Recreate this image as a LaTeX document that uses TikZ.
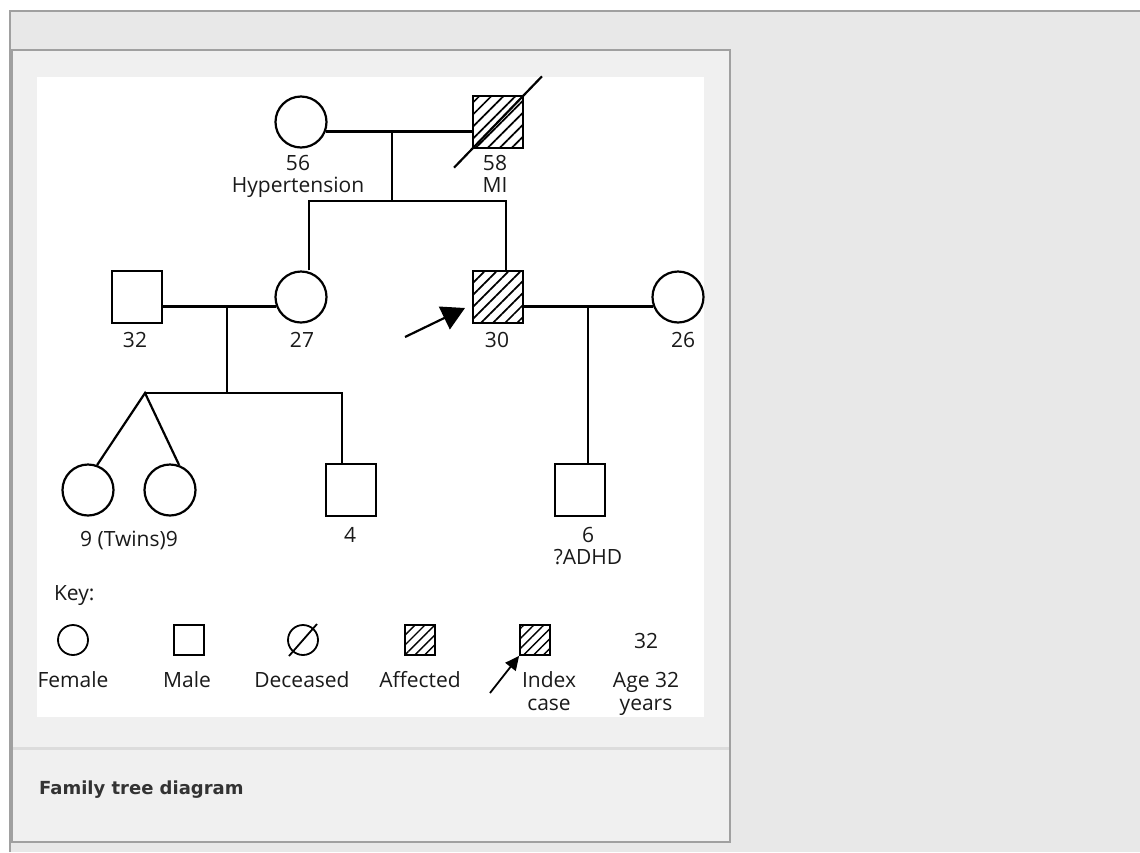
\documentclass[tikz,border=0pt]{standalone}
\usepackage{fontspec}
\setmainfont{Open Sans}
\newfontfamily\capfont{DejaVu Sans}
\usepackage{xcolor}
\usetikzlibrary{arrows.meta,patterns.meta,calc}

\definecolor{pagebg}{HTML}{E8E8E8}
\definecolor{panelbg}{HTML}{F0F0F0}
\definecolor{rimgray}{HTML}{A0A0A0}
\definecolor{sepgray}{HTML}{DCDCDC}
\definecolor{inkgray}{HTML}{1A1A1A}
\definecolor{capgray}{HTML}{333333}

\begin{document}
\begin{tikzpicture}[x=1pt, y=-1pt, line width=2.2pt,
  fem/.style={draw, circle, minimum size=51pt, inner sep=0pt},
  mal/.style={draw, rectangle, minimum width=50pt, minimum height=52pt, inner sep=0pt},
  aff/.style={pattern={Lines[angle=45,distance=8.5pt,line width=1.7pt]}},
  kfem/.style={draw, circle, minimum size=30pt, inner sep=0pt, line width=1.8pt},
  kmal/.style={draw, rectangle, minimum size=30pt, inner sep=0pt, line width=1.8pt},
  kaff/.style={pattern={Lines[angle=45,distance=7pt,line width=1.4pt]}},
  lbl/.style={font=\fontsize{21}{22}\selectfont, text=inkgray, align=center,
              inner sep=0pt, anchor=base},
  klbl/.style={lbl, font=\fontsize{21}{23}\selectfont},
  ptr/.style={-{Triangle[length=23pt,width=25pt]}}
]
  \useasboundingbox (0,0) rectangle (1140,852);

  % page and panel
  \fill[white] (0,0) rectangle (1140,852);
  \fill[pagebg] (10,11) rectangle (1140,852);
  \draw[rimgray, line width=1.5pt] (10,852) -- (10,11) -- (1140,11);
  \draw[rimgray, fill=panelbg, line width=1.5pt] (12,50) rectangle (730,842);
  \draw[sepgray, line width=3pt] (13,748) -- (729,748);
  \fill[white] (37,77) rectangle (704,717);
  \node[font=\capfont\bfseries\fontsize{18}{20}\selectfont, text=capgray,
        anchor=base west, inner sep=0pt] (caption) at (38,794) {Family tree diagram};

  % grandparents
  \node[fem] (gma) at (301,122) {};
  \node[mal,aff] (gpa) at (498,122) {};
  \draw ($(gpa.south west)!-0.35!(gpa.north east)$)
     -- ($(gpa.north east)!-0.35!(gpa.south west)$);
  \node[lbl] (gmalbl) at (298,192) {56\\Hypertension};
  \node[lbl] (gpalbl) at (495,192) {58\\MI};
  \draw (gma.-21) -- (gma.-21 -| gpa.west);

  \coordinate (gdrop) at (392,131);
  \coordinate (sibL) at (309,201);
  \coordinate (sibR) at (506,201);

  % parents
  \node[mal] (dad) at (137,297) {};
  \node[fem] (mum) at (301,297) {};
  \node[mal,aff] (pro) at (498,297) {};
  \node[fem] (wife) at (678,297) {};
  \node[lbl] (dadlbl) at (135,347) {32};
  \node[lbl] (mumlbl) at (302,347) {27};
  \node[lbl] (prolbl) at (497,347) {30};
  \node[lbl] (wifelbl) at (683,347) {26};

  \draw (gdrop) -- (gdrop |- sibL);
  \draw (sibL |- mum.north) -- (sibL) -- (sibR) -- (sibR |- pro.north);
  \draw (dad.east |- mum.-159) -- (mum.-159);
  \draw (pro.east |- wife.-159) -- (wife.-159);

  % index case pointer
  \coordinate (ptrtail) at (405,337);
  \coordinate (ptrtip) at (465,308);
  \draw[ptr] (ptrtail) -- (ptrtip);

  % children
  \node[fem] (twinA) at (88,490) {};
  \node[fem] (twinB) at (170,490) {};
  \node[mal] (boy) at (351,490) {};
  \node[mal] (son) at (580,490) {};
  \node[lbl] (twinlbl) at (129,546) {9 (Twins)9};
  \node[lbl] (boylbl) at (350,542) {4};
  \node[lbl] (sonlbl) at (588,564) {6\\?ADHD};

  \coordinate (ldrop) at (227,306);
  \coordinate (kidL) at (145,393);
  \coordinate (kidR) at (342,393);
  \coordinate (rdrop) at (588,306);
  \draw (ldrop) -- (ldrop |- kidL);
  \draw (kidL) -- (kidR) -- (kidR |- boy.north);
  \draw (twinA.70) -- (kidL) -- (twinB.70);
  \draw (rdrop) -- (rdrop |- son.north);

  % key
  \node[lbl, anchor=base west] (keyhd) at (53,600) {Key:};
  \node[kfem] (kf) at (73,640) {};
  \node[kmal] (km) at (189,640) {};
  \node[kfem] (kd) at (303,640) {};
  \draw[line width=1.8pt] ($(kd.center)+(-14,16)$) -- ($(kd.center)+(14,-16)$);
  \node[kmal,kaff] (ka) at (420,640) {};
  \node[kmal,kaff] (ki) at (535,640) {};
  \coordinate (kptr) at (490,693);
  \draw[-{Triangle[length=14pt,width=13pt]}, line width=1.8pt] (kptr) -- (ki.south west);
  \node[lbl] (kage) at (646,648) {32};

  \node[klbl] at (73,687) {Female};
  \node[klbl] at (187,687) {Male};
  \node[klbl] at (302,687) {Deceased};
  \node[klbl] at (420,687) {Affected};
  \node[klbl] at (549,710) {Index\\case};
  \node[klbl] at (646,710) {Age 32\\years};
\end{tikzpicture}
\end{document}
